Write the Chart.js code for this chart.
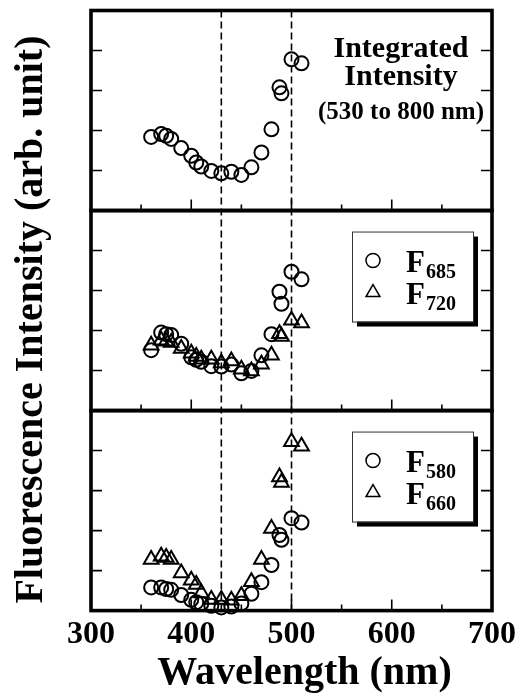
<!DOCTYPE html>
<html>
<head>
<meta charset="utf-8">
<script src="https://cdn.jsdelivr.net/npm/chart.js@4.4.1/dist/chart.umd.min.js"></script>
<style>
  html, body { margin: 0; padding: 0; background: #ffffff; }
  #wrap { width: 521px; height: 693px; position: relative; }
</style>
</head>
<body>
<div id="wrap"><canvas id="chart" width="521" height="693"></canvas></div>
<script>
// Excitation wavelengths (nm)
const wavelengths = [360, 370, 375, 380, 390, 400, 405, 410, 420, 430, 440, 450, 460, 470, 480, 488, 490, 500, 510];

// Top panel: integrated intensity, 530 to 800 nm (arb. unit)
const integrated = [1.84, 1.91, 1.87, 1.79, 1.56, 1.37, 1.20, 1.10, 0.99, 0.93, 0.97, 0.89, 1.08, 1.45, 2.03, 3.08, 2.93, 3.78, 3.68];

// Middle panel
const f685 = [1.51, 1.95, 1.91, 1.89, 1.67, 1.33, 1.27, 1.22, 1.11, 1.10, 1.15, 0.93, 0.99, 1.38, 1.91, 2.97, 2.67, 3.47, 3.28];
const f720 = [1.63, 1.76, 1.73, 1.70, 1.55, 1.43, 1.35, 1.28, 1.28, 1.19, 1.24, 1.03, 0.99, 1.16, 1.38, 1.92, 1.85, 2.26, 2.19];

// Bottom panel
const f580 = [0.58, 0.58, 0.54, 0.52, 0.39, 0.27, 0.21, 0.17, 0.12, 0.08, 0.10, 0.18, 0.42, 0.71, 1.14, 1.89, 1.77, 2.31, 2.20];
const f660 = [1.28, 1.36, 1.33, 1.28, 0.94, 0.76, 0.65, 0.44, 0.28, 0.28, 0.26, 0.37, 0.72, 1.28, 2.05, 3.34, 3.20, 4.22, 4.11];

// Axis settings
const xRange = [300, 700];
const xStep = 100;
const yRange = [0, 5];
const yStep = 1;
const guideWavelengths = [430, 500];

// Text
const yTitle = 'Fluorescence Intensity (arb. unit)';
const xTitle = 'Wavelength (nm)';
const topNote = ['Integrated', 'Intensity', '(530 to 800 nm)'];
const midLegend = [['F', '685'], ['F', '720']];
const lowLegend = [['F', '580'], ['F', '660']];

const SERIF = '"Liberation Serif", "Times New Roman", serif';
const pts = (ys) => wavelengths.map((x, i) => ({ x, y: ys[i] }));

function series(label, ys, axis, style) {
  const r = style === 'triangle' ? 8.5 : 7;
  return {
    label, data: pts(ys), yAxisID: axis,
    pointStyle: style,
    pointRadius: r,
    pointHoverRadius: r,
    pointBorderWidth: 2,
    pointBorderColor: '#000',
    pointBackgroundColor: 'rgba(0,0,0,0)',
    showLine: false,
    clip: false
  };
}

function hiddenY() {
  return {
    type: 'linear', position: 'left', stack: 'panels', stackWeight: 1,
    min: yRange[0], max: yRange[1],
    ticks: { display: false, stepSize: yStep },
    grid: { display: false, drawTicks: false },
    border: { display: false },
    afterFit: (s) => { s.width = 0; }
  };
}

// Frames, inward ticks, guide lines, annotations and legends
const decor = {
  id: 'decor',
  beforeDatasetsDraw(chart) {
    const { ctx, chartArea } = chart;
    const xs = chart.scales.x;
    ctx.save();
    ctx.strokeStyle = '#000';
    ctx.lineWidth = 1.6;
    ctx.setLineDash([7, 4]);
    guideWavelengths.forEach(w => {
      const px = xs.getPixelForValue(w);
      ctx.beginPath();
      ctx.moveTo(px, chartArea.top);
      ctx.lineTo(px, chartArea.bottom);
      ctx.stroke();
    });
    ctx.restore();
  },
  afterDraw(chart) {
    const { ctx, chartArea } = chart;
    const xs = chart.scales.x;
    const panels = ['yTop', 'yMid', 'yLow'].map(id => chart.scales[id]);
    const L = chartArea.left, R = chartArea.right;
    ctx.save();
    ctx.strokeStyle = '#000';
    ctx.fillStyle = '#000';

    // inward tick marks
    const xt = xs.ticks.map(t => t.value);
    const minor = [];
    for (let i = 0; i < xt.length - 1; i++) minor.push((xt[i] + xt[i + 1]) / 2);
    ctx.lineWidth = 1.6;
    panels.forEach(ys => {
      ctx.beginPath();
      ys.ticks.forEach(t => {
        if (t.value <= ys.min || t.value >= ys.max) return;
        const py = ys.getPixelForValue(t.value);
        ctx.moveTo(L, py); ctx.lineTo(L + 11, py);
        ctx.moveTo(R, py); ctx.lineTo(R - 11, py);
      });
      xt.forEach(v => {
        if (v <= xs.min || v >= xs.max) return;
        const px = xs.getPixelForValue(v);
        ctx.moveTo(px, ys.bottom); ctx.lineTo(px, ys.bottom - 11);
      });
      minor.forEach(v => {
        const px = xs.getPixelForValue(v);
        ctx.moveTo(px, ys.bottom); ctx.lineTo(px, ys.bottom - 6);
      });
      ctx.stroke();
    });

    // panel frames
    ctx.lineWidth = 3.6;
    panels.forEach(ys => {
      ctx.strokeRect(L, ys.top, R - L, ys.bottom - ys.top);
    });

    // top panel note
    const top = panels[0].top;
    const cx = R - 91;
    ctx.textAlign = 'center';
    ctx.textBaseline = 'alphabetic';
    ctx.font = 'bold 30px ' + SERIF;
    ctx.fillText(topNote[0], cx, top + 46);
    ctx.fillText(topNote[1], cx, top + 74);
    ctx.font = 'bold 25px ' + SERIF;
    ctx.fillText(topNote[2], cx, top + 108);

    // legends with drop shadow
    const drawLegend = (ys, rows) => {
      const bx = R - 140, by = ys.top + 21, bw = 121, bh = 90;
      ctx.fillStyle = '#000';
      ctx.fillRect(bx + 5, by + 5, bw, bh);
      ctx.fillStyle = '#fff';
      ctx.fillRect(bx, by, bw, bh);
      ctx.lineWidth = 1;
      ctx.strokeStyle = '#333';
      ctx.strokeRect(bx + 0.5, by + 0.5, bw, bh);
      ctx.strokeStyle = '#000';
      const styles = ['circle', 'triangle'];
      rows.forEach((r, i) => {
        const my = ys.top + 50 + i * 30;
        ctx.fillStyle = 'rgba(0,0,0,0)';
        ctx.lineWidth = 1.5;
        Chart.helpers.drawPoint(ctx, {
          pointStyle: styles[i], radius: styles[i] === 'triangle' ? 8 : 7,
          borderWidth: 1.5, rotation: 0
        }, bx + 21, my + (i ? 2 : 0));
        const base = ys.top + 61 + i * 32;
        ctx.fillStyle = '#000';
        ctx.textAlign = 'left';
        ctx.font = 'bold 31px ' + SERIF;
        ctx.fillText(r[0], bx + 54, base);
        const fw = ctx.measureText(r[0]).width;
        ctx.font = 'bold 20px ' + SERIF;
        ctx.fillText(r[1], bx + 54 + fw + 1, base + 6);
      });
    };
    drawLegend(panels[1], midLegend);
    drawLegend(panels[2], lowLegend);

    // axis titles
    ctx.fillStyle = '#000';
    ctx.textAlign = 'center';
    ctx.textBaseline = 'alphabetic';
    ctx.font = 'bold 40px ' + SERIF;
    ctx.fillText(xTitle, (L + R) / 2 + 13, chartArea.bottom + 73);
    ctx.save();
    ctx.translate(L - 49, (chartArea.top + chartArea.bottom) / 2 + 9);
    ctx.rotate(-Math.PI / 2);
    ctx.font = 'bold 40px ' + SERIF;
    ctx.fillText(yTitle, 0, 0);
    ctx.restore();

    ctx.restore();
  }
};

new Chart(document.getElementById('chart'), {
  type: 'scatter',
  data: {
    datasets: [
      series('Integrated Intensity', integrated, 'yTop', 'circle'),
      series('F685', f685, 'yMid', 'circle'),
      series('F720', f720, 'yMid', 'triangle'),
      series('F580', f580, 'yLow', 'circle'),
      series('F660', f660, 'yLow', 'triangle')
    ]
  },
  options: {
    responsive: false,
    animation: false,
    devicePixelRatio: 1,
    layout: { padding: { left: 91, right: 27, top: 9, bottom: 34 } },
    plugins: { legend: { display: false }, tooltip: { enabled: false } },
    scales: {
      x: {
        type: 'linear', position: 'bottom',
        min: xRange[0], max: xRange[1],
        ticks: {
          stepSize: xStep, padding: 5, color: '#000',
          font: { family: SERIF, size: 32, weight: 'bold' }
        },
        grid: { display: false, drawTicks: false },
        border: { display: false }
      },
      yLow: hiddenY(),
      yMid: hiddenY(),
      yTop: hiddenY()
    }
  },
  plugins: [decor]
});
</script>
</body>
</html>
